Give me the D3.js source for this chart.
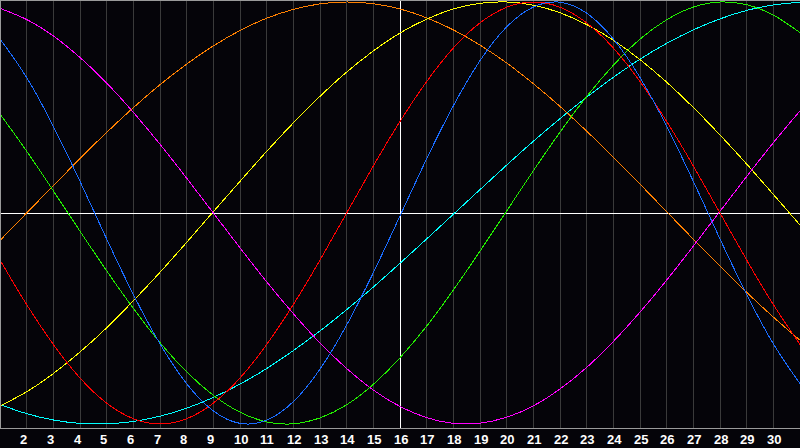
<!DOCTYPE html>
<html>
<head>
<meta charset="utf-8">
<script src="https://cdn.jsdelivr.net/npm/d3@7/dist/d3.min.js"></script>
<style>
  html, body { margin: 0; padding: 0; background: #050409; }
  svg { display: block; }
</style>
</head>
<body>
<svg id="chart" width="800" height="448"></svg>
<script>
// ---- data (day of month, value in % of amplitude) ----
const days = [1,2,3,4,5,6,7,8,9,10,11,12,13,14,15,16,17,18,19,20,21,22,23,24,25,26,27,28,29,30,31];
const tickLabels = [2,3,4,5,6,7,8,9,10,11,12,13,14,15,16,17,18,19,20,21,22,23,24,25,26,27,28,29,30];
const today = 16;

const physical = [82.5,64.2,41.1,15.0,-12.3,-38.6,-62.0,-80.9,-93.8,-99.7,-98.2,-89.4,-74.0,-53.1,-28.3,-1.4,25.7,50.8,72.2,88.2,97.6,99.9,94.7,82.5,64.2,41.1,15.0,-12.3,-38.6,-62.0,-80.9];
const emotional = [-22.3,-43.4,-62.3,-78.2,-90.1,-97.5,-100,-97.5,-90.1,-78.2,-62.3,-43.4,-22.3,0,22.3,43.4,62.3,78.2,90.1,97.5,100,97.5,90.1,78.2,62.3,43.4,22.3,0,-22.3,-43.4,-62.3];
const intellectual = [46.9,29.3,10.5,-8.6,-27.4,-45.2,-61.4,-75.3,-86.4,-94.4,-99.0,-99.9,-97.1,-90.9,-81.2,-68.6,-53.6,-36.5,-18.1,1.0,20.0,38.3,55.2,70.0,82.4,91.6,97.6,100.0,98.7,93.8,85.5];
const intuitive = [97.0,91.7,83.9,73.7,61.6,47.7,32.6,16.5,0,-16.5,-32.6,-47.7,-61.6,-73.7,-83.9,-91.7,-97.0,-99.7,-99.6,-96.8,-91.4,-83.4,-73.2,-60.9,-47.0,-31.8,-15.7,0.8,17.3,33.3,48.4];
const aesthetic = [-91.5,-84.7,-76.1,-65.9,-54.4,-41.6,-28.1,-13.9,0.6,15.0,29.2,42.7,55.3,66.8,76.8,85.3,91.9,96.7,99.4,100.0,98.5,94.9,89.3,81.9,72.7,62.0,50.0,37.0,23.2,8.8,-5.7];
const awareness = [-13.0,0,13.0,25.8,38.2,49.9,60.8,70.6,79.2,86.5,92.3,96.5,99.1,100.0,99.2,96.7,92.5,86.8,79.6,71.1,61.3,50.5,38.8,26.5,13.7,0.6,-12.4,-25.2,-37.6,-49.3,-60.3];
const spiritual = [-90.8,-95.1,-98.1,-99.7,-99.9,-98.8,-96.3,-92.5,-87.4,-81.1,-73.7,-65.2,-55.9,-45.8,-35.1,-23.8,-12.3,-0.6,11.1,22.7,34.0,44.7,54.9,64.3,72.9,80.4,86.8,92.0,96.0,98.6,99.9];

const seriesNames = ["spiritual","awareness","aesthetic","intuitive","intellectual","emotional","physical"];
const seriesValues = [spiritual, awareness, aesthetic, intuitive, intellectual, emotional, physical];
const seriesColors = ["#00ffff","#ff8000","#ffff00","#ff00ff","#22ee00","#ff0000","#1a6cff"];

// ---- drawing ----
const W = 800, H = 448, plotBottom = 428;
const svg = d3.select("#chart");

svg.append("rect").attr("width", W).attr("height", H).attr("fill", "#050409");

const x = d3.scaleLinear().domain([1, 31]).range([0, 800]);
const y = d3.scaleLinear().domain([-100, 100]).range([424, 2]);

const px = v => Math.floor(v) + 0.5;

// vertical day grid
svg.append("g").selectAll("line")
  .data(tickLabels)
  .join("line")
  .attr("x1", d => px(x(d))).attr("x2", d => px(x(d)))
  .attr("y1", 0).attr("y2", plotBottom)
  .attr("stroke", d => d === today ? "#ffffff" : "#3a3a3a")
  .attr("stroke-width", 1)
  .attr("shape-rendering", "crispEdges");

// zero line
svg.append("line")
  .attr("x1", 0).attr("x2", W)
  .attr("y1", px(y(0))).attr("y2", px(y(0)))
  .attr("stroke", "#ffffff").attr("stroke-width", 1)
  .attr("shape-rendering", "crispEdges");

// curves
const line = d3.line()
  .x((d, i) => x(days[i]))
  .y(d => y(d))
  .curve(d3.curveNatural);

svg.append("g").selectAll("path")
  .data(seriesValues)
  .join("path")
  .attr("class", (d, i) => seriesNames[i])
  .attr("d", d => line(d))
  .attr("fill", "none")
  .attr("stroke", (d, i) => seriesColors[i])
  .attr("stroke-width", 1)
  .attr("shape-rendering", "crispEdges");

// frame (top, left, bottom)
const frame = svg.append("g").attr("stroke", "#9a9a9a").attr("stroke-width", 1).attr("shape-rendering", "crispEdges");
frame.append("line").attr("x1", 0).attr("x2", W).attr("y1", 0.5).attr("y2", 0.5);
frame.append("line").attr("x1", 0.5).attr("x2", 0.5).attr("y1", 0).attr("y2", plotBottom + 0.5);
frame.append("line").attr("x1", 0).attr("x2", W).attr("y1", plotBottom + 0.5).attr("y2", plotBottom + 0.5);

// day labels
svg.append("g").selectAll("text")
  .data(tickLabels)
  .join("text")
  .attr("x", d => Math.floor(x(d)) - 6)
  .attr("y", 443.5)
  .attr("fill", "#ffffff")
  .attr("font-family", "'Liberation Sans', Arial, sans-serif")
  .attr("font-weight", "bold")
  .attr("font-size", "13px")
  .text(d => d);
</script>
</body>
</html>
